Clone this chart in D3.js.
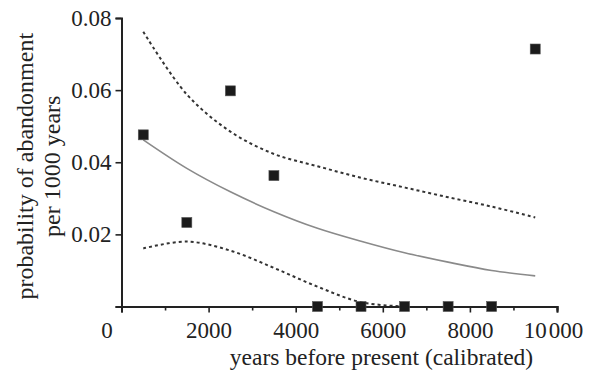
<!DOCTYPE html>
<html>
<head>
<meta charset="utf-8">
<script src="https://cdn.jsdelivr.net/npm/d3@7"></script>
<style>
  body { margin: 0; background: #fff; }
  text { font-family: "Liberation Serif", "DejaVu Serif", serif; fill: #222; }
</style>
</head>
<body>
<div id="chart"></div>
<script>
// bins (years before present)
var years = [500, 1500, 2500, 3500, 4500, 5500, 6500, 7500, 8500, 9500];
// observed probability per bin
var observed = [0.0476, 0.0233, 0.0598, 0.0363, 0, 0, 0, 0, 0, 0.0714];
// fitted curve and bounds
var fitted = [0.0462, 0.0383, 0.0318, 0.0263, 0.0217, 0.0181, 0.0149, 0.0123, 0.0100, 0.0085];
var upper = [0.0762, 0.0588, 0.0485, 0.0423, 0.0389, 0.0357, 0.0330, 0.0303, 0.0277, 0.0247];
var lower = [0.0161, 0.0180, 0.0155, 0.0107, 0.0055, 0.0012, 0, null, null, null];

var xTicks = [0, 2000, 4000, 6000, 8000, 10000];
var xMinor = [1000, 3000, 5000, 7000, 9000];
var yTicks = [0.02, 0.04, 0.06, 0.08];

var width = 598, height = 371;
var margin = {top: 18, right: 41, bottom: 64.5, left: 121.5};

var svg = d3.select("#chart").append("svg")
    .attr("width", width)
    .attr("height", height);

var x = d3.scaleLinear().domain([0, 10000]).range([margin.left, width - margin.right]);
var y = d3.scaleLinear().domain([0, 0.08]).range([height - margin.bottom, margin.top]);

// lines
function lineOf(vals) {
    return d3.line()
        .defined(function (d, i) { return vals[i] != null; })
        .x(function (d, i) { return x(years[i]); })
        .y(function (d, i) { return y(vals[i]); })
        .curve(d3.curveCatmullRom.alpha(0.5))(years);
}

svg.append("path")
    .attr("d", lineOf(upper))
    .attr("fill", "none")
    .attr("stroke", "#333")
    .attr("stroke-width", 2)
    .attr("stroke-dasharray", "3,3");

svg.append("path")
    .attr("d", lineOf(lower))
    .attr("fill", "none")
    .attr("stroke", "#333")
    .attr("stroke-width", 2)
    .attr("stroke-dasharray", "3,3");

svg.append("path")
    .attr("d", lineOf(fitted))
    .attr("fill", "none")
    .attr("stroke", "#8a8a8a")
    .attr("stroke-width", 1.6);

// axes
var xAxis = svg.append("g")
    .attr("transform", "translate(0," + y(0) + ")")
    .call(d3.axisBottom(x).tickValues(xTicks).tickSize(6).tickPadding(9)
        .tickFormat(function (d) { return d === 10000 ? "10\u200A000" : d; }));
xAxis.selectAll(".tick").filter(function (d) { return d === 0; }).select("text").attr("dx", -15);
xAxis.selectAll(".tick").filter(function (d) { return d === 10000; }).select("text").attr("dx", -4);

svg.append("g")
    .attr("transform", "translate(0," + y(0) + ")")
    .call(d3.axisBottom(x).tickValues(xMinor).tickSize(4).tickFormat(""));

var yAxis = svg.append("g")
    .attr("transform", "translate(" + x(0) + ",0)")
    .call(d3.axisLeft(y).tickValues([0].concat(yTicks)).tickSize(6).tickPadding(4)
        .tickFormat(function (d) { return d === 0 ? "" : d3.format(".2f")(d); }));

svg.selectAll(".domain").attr("stroke", "#222").attr("stroke-width", 2);
svg.selectAll(".tick line").attr("stroke", "#222").attr("stroke-width", 1.6);
svg.selectAll(".tick text")
    .attr("font-family", "Liberation Serif, serif")
    .attr("font-size", 23)
    .attr("fill", "#222");

// points
svg.selectAll("rect.pt")
    .data(years)
    .enter().append("rect")
    .attr("class", "pt")
    .attr("x", function (d) { return x(d) - 5; })
    .attr("y", function (d, i) { return y(observed[i]) - 5; })
    .attr("width", 10)
    .attr("height", 10)
    .attr("fill", "#1b1b1b")
    .attr("stroke", "#555")
    .attr("stroke-width", 0.6);

// titles
svg.append("text")
    .attr("x", 381.5)
    .attr("y", 365)
    .attr("text-anchor", "middle")
    .attr("font-size", 23.5)
    .text("years before present (calibrated)");

var yt = svg.append("text")
    .attr("transform", "translate(33," + ((y(0) + y(0.08)) / 2 + 4) + ") rotate(-90)")
    .attr("text-anchor", "middle")
    .attr("font-size", 24);
yt.append("tspan").attr("x", 0).attr("dy", 0).text("probability of abandonment");
yt.append("tspan").attr("x", 0).attr("dy", 26.5).text("per 1000 years");
</script>
</body>
</html>
